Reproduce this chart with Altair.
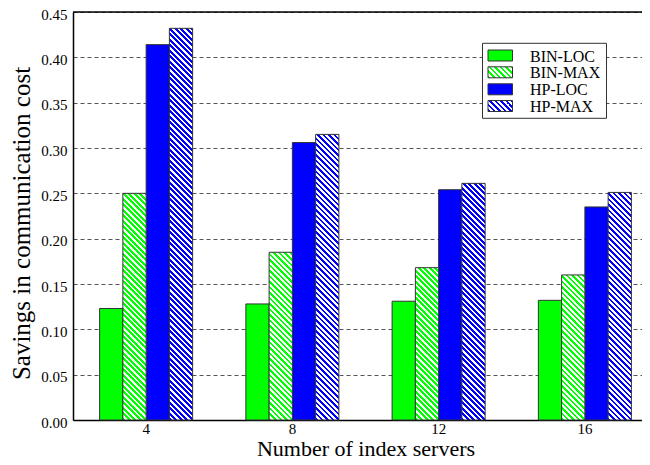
import altair as alt
import pandas as pd

# ---- data ----
groups = ["4", "8", "12", "16"]
series = ["BIN-LOC", "BIN-MAX", "HP-LOC", "HP-MAX"]
bin_loc = [0.123, 0.128, 0.131, 0.132]
bin_max = [0.250, 0.185, 0.168, 0.160]
hp_loc = [0.414, 0.306, 0.254, 0.235]
hp_max = [0.432, 0.315, 0.261, 0.251]
y_ticks = [0.00, 0.05, 0.10, 0.15, 0.20, 0.25, 0.30, 0.35, 0.40, 0.45]

values = {"BIN-LOC": bin_loc, "BIN-MAX": bin_max, "HP-LOC": hp_loc, "HP-MAX": hp_max}
colors = {"BIN-LOC": "#00ff00", "BIN-MAX": "#00ff00", "HP-LOC": "#0000ff", "HP-MAX": "#0000ff"}
hatched = {"BIN-MAX", "HP-MAX"}

rows = []
for s in series:
    for g, v in zip(groups, values[s]):
        rows.append({"group": g, "series": s, "value": v})
df = pd.DataFrame(rows)

# ---- layout ----
W, H = 569, 408
XRANGE = 585
PAD_IN, PAD_OUT = 0.364, 0.182
YMAX = 0.45
FONT = "Liberation Serif"
STROKE = "#333333"

step = XRANGE / (len(groups) - PAD_IN + 2 * PAD_OUT)
bar_w = step * (1 - PAD_IN) / len(series)
ppu = H / YMAX


def hatch(color, w, h, period=5.5):
    """Diagonal stripe fill built from a linear gradient in bbox units."""
    c = (w + h) / (w * w + h * h)
    n = (w + h) / period
    stops = []
    i = 0
    while i / n < 1:
        a = i / n
        b = min((i + 0.5) / n, 1.0)
        e = min((i + 1) / n, 1.0)
        stops += [
            alt.GradientStop(offset=a, color=color),
            alt.GradientStop(offset=b, color=color),
            alt.GradientStop(offset=b, color="#ffffff"),
            alt.GradientStop(offset=e, color="#ffffff"),
        ]
        i += 1
    return alt.LinearGradient(
        gradient="linear", stops=stops, x1=0, y1=1, x2=c * w, y2=1 - c * h
    )


x_enc = alt.X(
    "group:N",
    sort=groups,
    scale=alt.Scale(range=[0, XRANGE], paddingInner=PAD_IN, paddingOuter=PAD_OUT),
    axis=alt.Axis(
        title="Number of index servers",
        titleFont=FONT, titleFontSize=22, titleFontWeight="normal", titleColor="black",
        titleX=XRANGE / 2, titleY=35, titleBaseline="alphabetic",
        labelFont=FONT, labelFontSize=15, labelColor="black", labelAngle=0,
        labelPadding=1, ticks=False, tickSize=0,
        domainColor="black", domainWidth=1.5, grid=False,
    ),
)
xo_enc = alt.XOffset(
    "series:N", sort=series, scale=alt.Scale(domain=series, paddingInner=0, paddingOuter=0)
)
y_enc = alt.Y(
    "value:Q",
    scale=alt.Scale(domain=[0, YMAX], nice=False, zero=True),
    axis=alt.Axis(
        title="Savings in communication cost",
        titleFont=FONT, titleFontSize=25, titleFontWeight="normal", titleColor="black",
        titleX=-52, titleY=211, titleBaseline="middle",
        labelFont=FONT, labelFontSize=15, labelColor="black", labelPadding=6,
        labelOffset=2,
        values=y_ticks, format=".2f", ticks=False, tickSize=0,
        domainColor="black", domainWidth=1.5,
        grid=True, gridColor="#555555", gridDash=[4, 3], gridWidth=1,
    ),
)

base = alt.Chart(df).encode(x=x_enc, xOffset=xo_enc, y=y_enc)

layers = []
# solid bars
solid = base.transform_filter(
    alt.FieldOneOfPredicate(field="series", oneOf=["BIN-LOC", "HP-LOC"])
).mark_bar(stroke=STROKE, strokeWidth=1).encode(
    color=alt.Color(
        "series:N",
        scale=alt.Scale(domain=["BIN-LOC", "HP-LOC"], range=[colors["BIN-LOC"], colors["HP-LOC"]]),
        legend=None,
    )
)
layers.append(solid)

# hatched bars, each with its own stripe gradient
for s in series:
    if s not in hatched:
        continue
    for g, v in zip(groups, values[s]):
        lay = base.transform_filter(
            (alt.datum.series == s) & (alt.datum.group == g)
        ).mark_bar(
            fill=hatch(colors[s], bar_w, v * ppu), stroke=STROKE, strokeWidth=1
        )
        layers.append(lay)

# top frame line
top = alt.Chart(pd.DataFrame({"k": [0]})).mark_rule(color="black", strokeWidth=1.5).encode(
    x=alt.value(0), x2=alt.value(W), y=alt.value(0)
)
layers.append(top)

# manual legend
leg_box = alt.Chart(pd.DataFrame({"k": [0]})).mark_rect(
    fill="white", stroke=STROKE, strokeWidth=1
).encode(x=alt.value(409.5), x2=alt.value(533.5), y=alt.value(31.3), y2=alt.value(106.3))
layers.append(leg_box)

row_y = [43.5, 60.3, 77.3, 94.0]
sw_x0, sw_x1, sw_h = 415, 439.5, 11.0
for s, yc in zip(series, row_y):
    ldf = pd.DataFrame({"series": [s]})
    fill = hatch(colors[s], sw_x1 - sw_x0, sw_h) if s in hatched else colors[s]
    sw = alt.Chart(ldf).mark_rect(fill=fill, stroke=STROKE, strokeWidth=1).encode(
        x=alt.value(sw_x0), x2=alt.value(sw_x1),
        y=alt.value(yc - sw_h / 2), y2=alt.value(yc + sw_h / 2),
    )
    tx = alt.Chart(ldf).mark_text(
        align="left", baseline="middle", font=FONT, fontSize=16, color="black"
    ).encode(x=alt.value(457), y=alt.value(yc + 1), text="series:N")
    layers += [sw, tx]

chart = alt.layer(*layers).properties(
    width=W,
    height=H,
    autosize=alt.AutoSizeParams(type="none"),
    padding={"left": 65, "top": 4, "right": 0, "bottom": 37},
).configure_view(stroke=None).configure(background="white", font=FONT).configure_axis(
    labelFont=FONT, titleFont=FONT
)

chart.save("out.html", embed_options={"renderer": "svg", "actions": False})
